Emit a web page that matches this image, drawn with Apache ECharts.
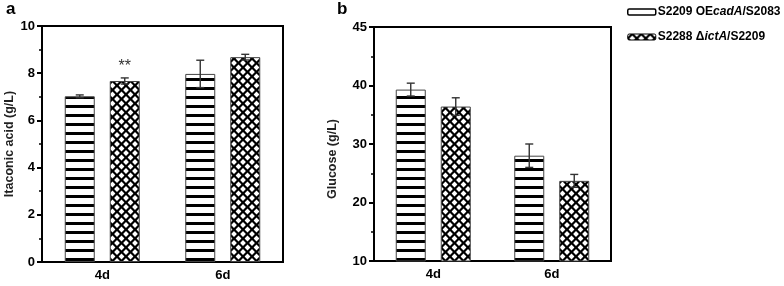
<!DOCTYPE html>
<html>
<head>
<meta charset="utf-8">
<script src="https://cdn.jsdelivr.net/npm/echarts@6/dist/echarts.min.js"></script>
<style>
html,body{margin:0;padding:0;background:#fff;}
#c{width:784px;height:286px;}
</style>
</head>
<body>
<div id="c"></div>
<script>
// ---- data ----
var categories = ['4d', '6d'];
var seriesNames = ['S2209 OEcadA/S2083', 'S2288 ΔictA/S2209'];
var itaconicMean1 = [7.02, 7.97];
var itaconicErr1 = [0.06, 0.58];
var itaconicMean2 = [7.67, 8.68];
var itaconicErr2 = [0.13, 0.12];
var itaconicSig2 = ['**', ''];
var glucoseMean1 = [39.3, 28.0];
var glucoseErr1 = [1.1, 2.0];
var glucoseMean2 = [36.4, 23.7];
var glucoseErr2 = [1.5, 1.1];
var itaconicTicks = ['0', '2', '4', '6', '8', '10'];
var glucoseTickValues = [10, 20, 30, 40, 50];
var glucoseTickLabels = ['10', '20', '30', '40', '45'];

// ---- patterns ----
function stripePattern() {
  var c = document.createElement('canvas');
  c.width = 8; c.height = 9;
  var g = c.getContext('2d');
  g.fillStyle = '#fff'; g.fillRect(0, 0, 8, 9);
  g.fillStyle = '#000'; g.fillRect(0, 6, 8, 3);
  return c;
}
function crossPattern() {
  var w = 9, h = 9;
  var c = document.createElement('canvas');
  c.width = w; c.height = h;
  var g = c.getContext('2d');
  g.fillStyle = '#000'; g.fillRect(0, 0, w, h);
  g.fillStyle = '#fff';
  function dia(cx, cy, r) {
    g.beginPath();
    g.moveTo(cx, cy - r); g.lineTo(cx + r, cy); g.lineTo(cx, cy + r); g.lineTo(cx - r, cy);
    g.closePath(); g.fill();
  }
  var r = 2.9;
  dia(w / 2, h / 2, r);
  dia(0, 0, r); dia(w, 0, r); dia(0, h, r); dia(w, h, r);
  return c;
}
var pStripe = { image: stripePattern(), repeat: 'repeat' };
var pCross = { image: crossPattern(), repeat: 'repeat' };

var BAR_W = 30;
var OFFS = [-22.5, 22.5];
var FONT = 'Liberation Sans, Arial, sans-serif';

function errSeries(gridIdx, means, errs, which) {
  var data = means.map(function (m, i) { return [i, m, errs[i]]; });
  return {
    type: 'custom',
    xAxisIndex: gridIdx, yAxisIndex: gridIdx,
    silent: true, z: 5,
    data: data,
    renderItem: function (params, api) {
      var x = api.value(0), m = api.value(1), e = api.value(2);
      var top = api.coord([x, m + e]);
      var bot = api.coord([x, m - e]);
      var cx = top[0] + OFFS[which];
      var cw = 4;
      var st = { stroke: '#333', lineWidth: 1.4 };
      return {
        type: 'group',
        children: [
          { type: 'line', shape: { x1: cx, y1: top[1], x2: cx, y2: bot[1] }, style: st },
          { type: 'line', shape: { x1: cx - cw, y1: top[1], x2: cx + cw, y2: top[1] }, style: st },
          { type: 'line', shape: { x1: cx - cw, y1: bot[1], x2: cx + cw, y2: bot[1] }, style: st }
        ]
      };
    }
  };
}

function barSeries(gridIdx, name, data, pattern, sig) {
  var s = {
    type: 'bar', name: name,
    xAxisIndex: gridIdx, yAxisIndex: gridIdx,
    data: data, barWidth: BAR_W, barGap: '50%',
    itemStyle: { color: pattern, borderColor: '#444', borderWidth: 1 }
  };
  if (sig) {
    s.label = {
      show: true, position: 'top', distance: 6,
      formatter: function (p) { return sig[p.dataIndex]; },
      fontFamily: FONT, fontSize: 16, color: '#333'
    };
  }
  return s;
}

var axisLineStyle = { lineStyle: { color: '#000', width: 2 } };
var labelStyle = { color: '#000', fontWeight: 'bold', fontSize: 13, fontFamily: FONT };

var chart = echarts.init(document.getElementById('c'));
chart.setOption({
  animation: false,
  backgroundColor: '#fff',
  title: [
    { text: 'a', left: 1, top: -4, textStyle: { fontSize: 17, fontWeight: 'bold', color: '#000', fontFamily: FONT } },
    { text: 'b', left: 332, top: -4, textStyle: { fontSize: 17, fontWeight: 'bold', color: '#000', fontFamily: FONT } }
  ],
  graphic: [
    {
      type: 'text', x: 333, y: 159, rotation: Math.PI / 2,
      style: {
        text: 'Glucose (g/L)', align: 'center', verticalAlign: 'middle',
        fill: '#222', fontWeight: 'bold', fontSize: 12.5, fontFamily: FONT
      }
    }
  ],
  legend: {
    orient: 'vertical', left: 622, top: 1,
    itemWidth: 28, itemHeight: 6, itemGap: 13,
    selectedMode: false,
    data: [
      { name: seriesNames[0], itemStyle: { color: '#fff', borderColor: '#000', borderWidth: 1.5 } },
      { name: seriesNames[1], itemStyle: { color: pCross, borderColor: '#000', borderWidth: 1 } }
    ],
    formatter: function (n) {
      if (n === seriesNames[0]) return '{n|S2209 OE}{i|cadA}{n|/S2083}';
      return '{n|S2288 Δ}{i|ictA}{n|/S2209}';
    },
    textStyle: {
      padding: [0, 0, 0, -3],
      rich: {
        n: { fontWeight: 'bold', fontSize: 12, color: '#000', fontFamily: FONT },
        i: { fontWeight: 'bold', fontStyle: 'italic', fontSize: 12, color: '#000', fontFamily: FONT }
      }
    }
  },
  grid: [
    { left: 42, right: 501, top: 26, bottom: 24, show: true, borderColor: '#000', borderWidth: 2, backgroundColor: 'transparent' },
    { left: 374, right: 173, top: 27, bottom: 25, show: true, borderColor: '#000', borderWidth: 2, backgroundColor: 'transparent' }
  ],
  xAxis: [0, 1].map(function (i) {
    return {
      type: 'category', gridIndex: i, data: categories,
      axisLine: axisLineStyle,
      axisTick: { alignWithLabel: true, length: 4, lineStyle: { color: '#000', width: 2 } },
      axisLabel: Object.assign({ margin: 7 }, labelStyle),
      splitLine: { show: false }
    };
  }),
  yAxis: [
    {
      type: 'value', gridIndex: 0, min: 0, max: 10, interval: 2,
      name: 'Itaconic acid (g/L)', nameLocation: 'middle', nameGap: 26,
      nameTextStyle: { color: '#222', fontWeight: 'bold', fontSize: 12.5, fontFamily: FONT },
      axisLine: { show: true, lineStyle: { color: '#000', width: 2 } },
      axisTick: { show: true, length: 5, lineStyle: { color: '#000', width: 2 } },
      minorTick: { show: true, splitNumber: 2, length: 3, lineStyle: { color: '#000', width: 1.5 } },
      axisLabel: Object.assign({ margin: 7, formatter: function (v) { return itaconicTicks[v / 2]; } }, labelStyle),
      splitLine: { show: false }
    },
    {
      type: 'value', gridIndex: 1, min: 10, max: 50, interval: 10,
      axisLine: { show: true, lineStyle: { color: '#000', width: 2 } },
      axisTick: { show: true, length: 5, lineStyle: { color: '#000', width: 2 } },
      minorTick: { show: true, splitNumber: 2, length: 3, lineStyle: { color: '#000', width: 1.5 } },
      axisLabel: Object.assign({ margin: 7, formatter: function (v) {
        var k = glucoseTickValues.indexOf(v); return k >= 0 ? glucoseTickLabels[k] : '';
      } }, labelStyle),
      splitLine: { show: false }
    }
  ],
  series: [
    barSeries(0, seriesNames[0], itaconicMean1, pStripe),
    barSeries(0, seriesNames[1], itaconicMean2, pCross, itaconicSig2),
    barSeries(1, seriesNames[0], glucoseMean1, pStripe),
    barSeries(1, seriesNames[1], glucoseMean2, pCross),
    errSeries(0, itaconicMean1, itaconicErr1, 0),
    errSeries(0, itaconicMean2, itaconicErr2, 1),
    errSeries(1, glucoseMean1, glucoseErr1, 0),
    errSeries(1, glucoseMean2, glucoseErr2, 1)
  ]
});
</script>
</body>
</html>
